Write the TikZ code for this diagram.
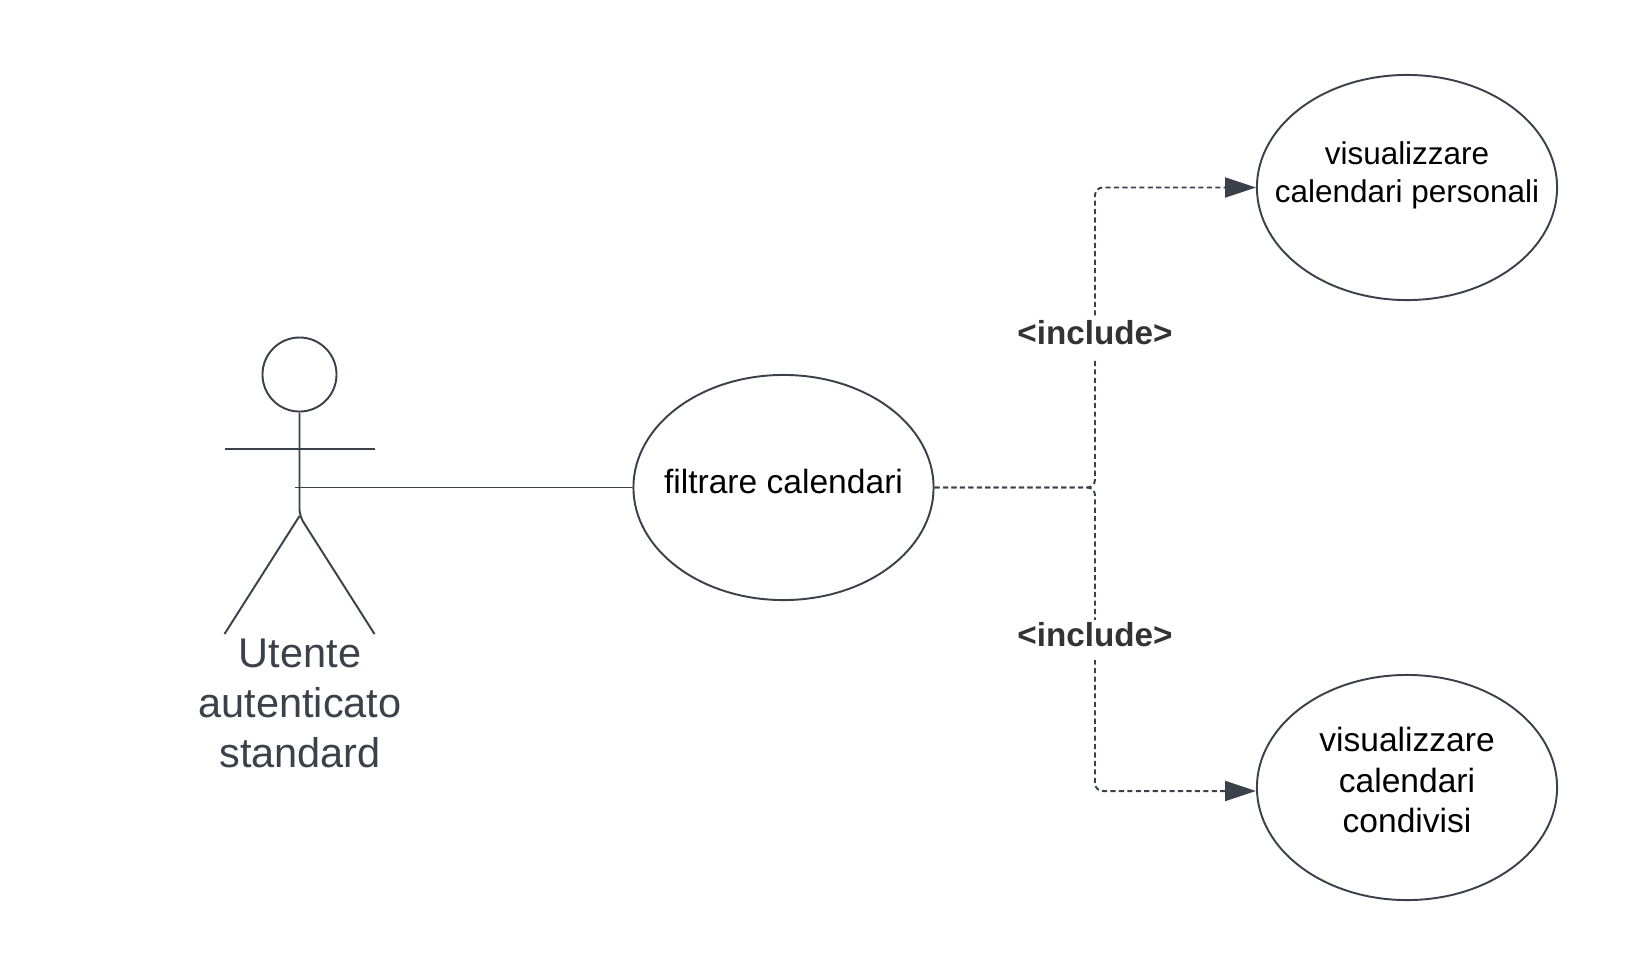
\documentclass[tikz,border=0pt]{standalone}
\usepackage{fontspec}
\setmainfont{Liberation Sans}
\usetikzlibrary{shapes.geometric,arrows.meta}
\definecolor{linegray}{HTML}{3A414A}
\definecolor{labelgray}{HTML}{333333}
\begin{document}
\begin{tikzpicture}[
        x=0.01cm, y=-0.01cm,
        usecase/.style={ellipse, draw=linegray, line width=0.55pt, fill=white, inner sep=0pt, minimum width=3cm, minimum height=2.25cm},
        casetext/.style={align=center, text=black, inner sep=0pt, font=\fontsize{9.55pt}{11.5pt}\selectfont},
        limb/.style={draw=linegray, line width=0.55pt},
        assoc/.style={draw=linegray, line width=0.42pt},
        dep/.style={draw=linegray, line width=0.55pt, dash pattern=on 1.45pt off 0.95pt, rounded corners=2.2pt, -{Triangle[length=8.8pt,width=5.7pt]}, color=linegray},
        includebox/.style={fill=white, anchor=base, inner xsep=0pt, inner ysep=0pt, text=labelgray, text height=7.4pt, text depth=3.9pt, font=\fontsize{9.45pt}{11pt}\selectfont\bfseries}
    ]
        \useasboundingbox (0,0) rectangle (1633,975);

        % actor
        \node[circle, draw=linegray, line width=0.55pt, inner sep=0pt, minimum size=0.74cm] (head) at (299.5,374.5) {};
        \coordinate (hip) at (299.5,516);
        \coordinate (armL) at (224.5,449);
        \coordinate (armR) at (374.5,449);
        \coordinate (footL) at (224.5,634);
        \coordinate (footR) at (374.5,634);
        \coordinate (grip) at (295,487.5);
        \draw[limb, rounded corners=2pt] (head.south) -- (hip) -- (footR);
        \draw[limb] (hip) -- (footL);
        \draw[limb] (armL) -- (armR);
        \node[align=center, text=linegray, inner sep=0pt, font=\fontsize{11.8pt}{14.22pt}\selectfont] (actor) at (300,703) {Utente\\autenticato\\standard};

        % use cases
        \node[usecase, label={[casetext, yshift=1.6pt]center:filtrare calendari}] (filtrare) at (783.5,487.5) {};
        \node[usecase, label={[casetext, font=\fontsize{8.95pt}{10.8pt}\selectfont, yshift=3.4pt]center:visualizzare\\calendari personali}] (personali) at (1407,187.5) {};
        \node[usecase, label={[casetext, yshift=2.1pt]center:visualizzare\\calendari\\condivisi}] (condivisi) at (1407,787.5) {};

        % connectors
        \coordinate (branch) at (1095,487.5);
        \draw[assoc] (grip) -- (filtrare.west);
        \draw[dep] (filtrare.east) -- (branch) |- (personali.west);
        \draw[dep] (filtrare.east) -- (branch) |- ([yshift=-1pt]condivisi.west);

        \node[includebox] (incA) at (1095,344) {<include>};
        \node[includebox] (incB) at (1095,646) {<include>};
    \end{tikzpicture}
\end{document}
